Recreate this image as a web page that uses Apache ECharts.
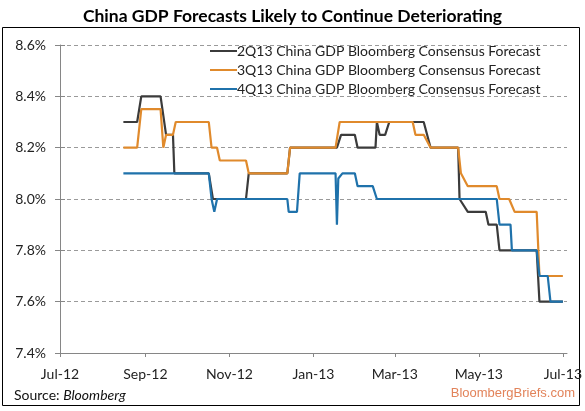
<!DOCTYPE html>
<html>
<head>
<meta charset="utf-8">
<script src="https://cdn.jsdelivr.net/npm/echarts@6/dist/echarts.min.js"></script>
<style>
html,body{margin:0;padding:0;background:#fff;}
#chart{width:585px;height:411px;}
</style>
</head>
<body>
<div id="chart"></div>
<script>
var titleText = 'China GDP Forecasts Likely to Continue Deteriorating';
var seriesNames = [
  '2Q13 China GDP Bloomberg Consensus Forecast',
  '3Q13 China GDP Bloomberg Consensus Forecast',
  '4Q13 China GDP Bloomberg Consensus Forecast'
];
var yTicks = [7.4, 7.6, 7.8, 8.0, 8.2, 8.4, 8.6];

var dates2Q = ['2012-08-16','2012-08-26','2012-08-29','2012-09-12','2012-09-16','2012-09-21','2012-09-22',
  '2012-10-17','2012-10-20','2012-11-13','2012-11-15','2012-12-13','2012-12-15','2013-01-18','2013-01-21',
  '2013-01-31','2013-02-02','2013-02-15','2013-02-16','2013-02-18','2013-02-22','2013-02-25','2013-03-22',
  '2013-03-27','2013-04-16','2013-04-17','2013-04-23','2013-05-06','2013-05-08','2013-05-14','2013-05-16',
  '2013-06-12','2013-06-14','2013-07-01'];
var values2Q = [8.30,8.30,8.40,8.40,8.25,8.25,8.10,
  8.10,8.00,8.00,8.10,8.10,8.20,8.20,8.25,
  8.25,8.20,8.20,8.30,8.25,8.25,8.30,8.30,
  8.20,8.20,8.00,7.95,7.95,7.90,7.90,7.80,
  7.80,7.60,7.60];

var dates3Q = ['2012-08-16','2012-08-26','2012-08-29','2012-09-12','2012-09-14','2012-09-16','2012-09-21',
  '2012-09-23','2012-10-17','2012-10-19','2012-10-23','2012-10-25','2012-11-13','2012-11-15','2012-12-13',
  '2012-12-15','2013-01-17','2013-01-20','2013-03-14','2013-03-16','2013-03-22','2013-03-27','2013-04-16',
  '2013-04-18','2013-04-23','2013-05-14','2013-05-16','2013-05-23','2013-05-27','2013-06-12','2013-06-14',
  '2013-07-01'];
var values3Q = [8.20,8.20,8.35,8.35,8.20,8.25,8.25,
  8.30,8.30,8.20,8.20,8.15,8.15,8.10,8.10,
  8.20,8.20,8.30,8.30,8.25,8.25,8.20,8.20,
  8.10,8.05,8.05,8.00,8.00,7.95,7.95,7.70,
  7.70];

var dates4Q = ['2012-08-16','2012-10-17','2012-10-19','2012-10-21','2012-10-23','2012-12-13','2012-12-14',
  '2012-12-20','2012-12-22','2013-01-17','2013-01-18','2013-01-19','2013-01-22','2013-01-31','2013-02-02',
  '2013-02-13','2013-02-16','2013-05-14','2013-05-16','2013-05-24','2013-05-25','2013-06-12','2013-06-14',
  '2013-06-20','2013-06-22','2013-07-01'];
var values4Q = [8.10,8.10,8.00,7.95,8.00,8.00,7.95,
  7.95,8.10,8.10,7.90,8.08,8.10,8.10,8.05,
  8.05,8.00,8.00,7.90,7.90,7.80,7.80,7.70,
  7.70,7.60,7.60];

var colors = ['#3b3b3b', '#e08a2c', '#1f72ab'];
var monthNames = ['Jan','Feb','Mar','Apr','May','Jun','Jul','Aug','Sep','Oct','Nov','Dec'];

function toPairs(d, v) {
  return d.map(function (s, i) { return [s, v[i]]; });
}

var font = 'Lato, "Open Sans", sans-serif';
var chart = echarts.init(document.getElementById('chart'), null, {renderer: 'canvas'});

var order = [0, 1, 2];
var datas = [toPairs(dates2Q, values2Q), toPairs(dates3Q, values3Q), toPairs(dates4Q, values4Q)];

chart.setOption({
  animation: false,
  backgroundColor: '#fff',
  title: {
    text: titleText,
    left: 'center',
    top: 2,
    textStyle: {fontFamily: font, fontWeight: 'bold', fontSize: 17.5, color: '#000'}
  },
  legend: {
    orient: 'vertical',
    left: 205,
    top: 39,
    itemWidth: 27,
    itemHeight: 2,
    itemGap: 5,
    icon: 'rect',
    data: seriesNames,
    textStyle: {fontFamily: font, fontSize: 14, color: '#222', padding: [0, 0, 0, -5]}
  },
  grid: {left: 60, right: 18, top: 45, bottom: 58},
  xAxis: {
    type: 'time',
    min: new Date(2012, 6, 1).getTime(),
    max: new Date(2013, 6, 4).getTime(),
    splitNumber: 6,
    axisLine: {lineStyle: {color: '#868686', width: 1}},
    axisTick: {show: true, length: 4, lineStyle: {color: '#868686'}},
    splitLine: {show: false},
    axisLabel: {
      fontFamily: font, fontSize: 14, color: '#222', margin: 14,
      formatter: function (val) {
        var d = new Date(val);
        return monthNames[d.getMonth()] + '-' + String(d.getFullYear()).slice(2);
      }
    }
  },
  yAxis: [{
    type: 'value',
    min: yTicks[0],
    max: yTicks[yTicks.length - 1],
    interval: 0.2,
    axisLine: {show: true, lineStyle: {color: '#868686'}},
    axisTick: {show: true, length: 5, lineStyle: {color: '#868686'}},
    splitLine: {show: true, lineStyle: {color: '#9a9a9a', type: [4, 3], width: 1}},
    axisLabel: {
      fontFamily: font, fontSize: 14, color: '#222', margin: 14,
      formatter: function (v) { return v.toFixed(1) + '%'; }
    }
  }, {
    type: 'value',
    position: 'left',
    min: yTicks[0],
    max: yTicks[yTicks.length - 1],
    interval: 0.2,
    axisLine: {show: false},
    axisTick: {show: true, inside: true, length: 5, lineStyle: {color: '#868686'}},
    splitLine: {show: false},
    axisLabel: {show: false}
  }],
  series: order.map(function (i) {
    return {
      name: seriesNames[i],
      type: 'line',
      data: datas[i],
      showSymbol: false,
      symbol: 'none',
      color: colors[i],
      lineStyle: {width: 2.2, color: colors[i]},
      z: 2 + i
    };
  }),
  graphic: [
    {type: 'rect', shape: {x: 2.5, y: 27.5, width: 577, height: 378}, style: {fill: null, stroke: '#000', lineWidth: 1}, silent: true},
    {type: 'text', left: 14, top: 388, style: {
      text: '{a|Source: }{b|Bloomberg}',
      rich: {
        a: {fontFamily: font, fontSize: 14, fill: '#111'},
        b: {fontFamily: font, fontSize: 14, fontStyle: 'italic', fill: '#111'}
      }
    }},
    {type: 'text', right: 10, top: 387, style: {
      text: 'BloombergBriefs.com', fontFamily: '"Liberation Sans", Arial, sans-serif', fontSize: 13, fill: '#e2835a'
    }}
  ]
});
</script>
</body>
</html>
